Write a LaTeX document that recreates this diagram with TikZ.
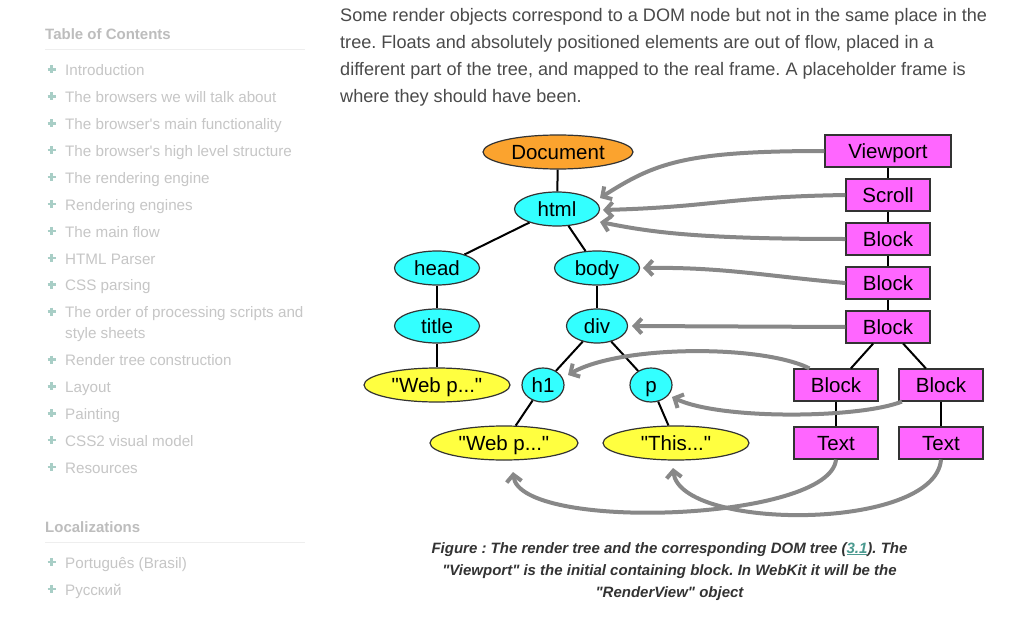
\documentclass[tikz,border=0pt]{standalone}
\usepackage{fontspec}
\setmainfont{Liberation Sans}[Ligatures=TeXOff]
\usetikzlibrary{shapes.geometric,arrows.meta,calc}
\definecolor{docorange}{HTML}{FBA32E}
\definecolor{domcyan}{HTML}{33FFFF}
\definecolor{txtyellow}{HTML}{FFFF40}
\definecolor{rmagenta}{HTML}{FF66FF}
\definecolor{arrowgray}{HTML}{888888}
\definecolor{sidegray}{HTML}{C6C6C6}
\definecolor{sidehead}{HTML}{BDBDBD}
\definecolor{sideplus}{HTML}{A8CEC6}
\definecolor{rulegray}{HTML}{EEEEEE}
\definecolor{paratext}{HTML}{4A4A4A}
\definecolor{captext}{HTML}{333333}
\definecolor{linkteal}{HTML}{4B9A90}
\frenchspacing
\begin{document}
\begin{tikzpicture}[x=1pt,y=-1pt,
  sidetitle/.style={anchor=base west,inner sep=0pt,text=sidehead,font=\fontsize{15}{18}\selectfont\bfseries},
  sideitem/.style={anchor=base west,inner sep=0pt,text=sidegray,font=\fontsize{15.2}{18}\selectfont},
  plusmark/.style={draw=sideplus,line width=2.5pt},
  sepline/.style={draw=rulegray,line width=1pt},
  paraline/.style={anchor=base west,inner sep=0pt,text=paratext,font=\fontsize{18.1}{20}\selectfont},
  capline/.style={anchor=base,inner sep=0pt,text=captext,font=\fontsize{15}{17}\selectfont\bfseries\itshape},
  dombase/.style={ellipse,draw=black!80,line width=1.2pt,inner sep=0pt,minimum height=34pt,text height=17pt,text depth=2pt,font=\fontsize{20.5}{24}\selectfont},
  docnode/.style={dombase,fill=docorange},
  elemnode/.style={dombase,fill=domcyan},
  textnode/.style={dombase,fill=txtyellow},
  rendernode/.style={rectangle,draw=black!80,line width=1.2pt,fill=rmagenta,inner sep=0pt,minimum height=32pt,minimum width=84pt,text height=17pt,text depth=2pt,font=\fontsize{20.5}{24}\selectfont},
  treeedge/.style={draw=black,line width=2pt},
  maparrow/.style={draw=arrowgray,line width=4pt,-{Straight Barb[length=7pt,width=15pt]}}
]
\useasboundingbox (0,0) rectangle (1024,631);
\fill[white] (0,0) rectangle (1024,631);

% ---------- sidebar ----------
\node[sidetitle] (toc) at (45,40) {Table of Contents};
\draw[sepline] (45,49.5) -- (305,49.5);
\foreach \yy/\tt [count=\i] in {
  75.7/{Introduction},
  102.6/{The browsers we will talk about},
  129.5/{The browser's main functionality},
  156.4/{The browser's high level structure},
  183.3/{The rendering engine},
  210.2/{Rendering engines},
  237.1/{The main flow},
  264.0/{HTML Parser},
  290.9/{CSS parsing},
  317.8/{The order of processing scripts and},
  365.7/{Render tree construction},
  392.6/{Layout},
  419.5/{Painting},
  446.4/{CSS2 visual model},
  473.3/{Resources}}
{
  \node[sideitem] (item\i) at (65,\yy) {\tt};
  \draw[plusmark] (47.5,\yy-6.2) -- (55.5,\yy-6.2) (51.5,\yy-10.2) -- (51.5,\yy-2.2);
}
\node[sideitem] (item10b) at (65,338.3) {style sheets};

\node[sidetitle] (loc) at (45,532) {Localizations};
\draw[sepline] (45,542.5) -- (305,542.5);
\foreach \yy/\tt [count=\i] in {568.3/{Português (Brasil)}, 595/{Русский}}
{
  \node[sideitem] (loc\i) at (65,\yy) {\tt};
  \draw[plusmark] (47.5,\yy-6.2) -- (55.5,\yy-6.2) (51.5,\yy-10.2) -- (51.5,\yy-2.2);
}

% ---------- paragraph ----------
\node[paraline] (p1) at (340,22) {Some render objects correspond to a DOM node but not in the same place in the};
\node[paraline] (p2) at (340,49) {tree. Floats and absolutely positioned elements are out of flow, placed in a};
\node[paraline] (p3) at (340,76) {different part of the tree, and mapped to the real frame. A placeholder frame is};
\node[paraline] (p4) at (340,103) {where they should have been.};

% ---------- DOM tree ----------
\node[docnode, minimum width=150pt] (doc) at (558,152) {Document};
\node[elemnode, minimum width=85pt] (html) at (557,209) {html};
\node[elemnode, minimum width=85pt] (head) at (437,268) {head};
\node[elemnode, minimum width=85pt] (body) at (597,268) {body};
\node[elemnode, minimum width=85pt] (title) at (437,326) {title};
\node[elemnode, minimum width=61pt] (div) at (597,326) {div};
\node[elemnode, minimum width=42pt] (h1) at (543,385) {h1};
\node[elemnode, minimum width=42pt] (p) at (651,385) {p};
\node[textnode, minimum width=146pt] (wp1) at (437,385) {"Web p..."};
\node[textnode, minimum width=148pt] (wp2) at (504,443) {"Web p..."};
\node[textnode, minimum width=146pt] (this) at (676,443) {"This..."};

\draw[treeedge] (doc) -- (html);
\draw[treeedge] (html) -- (head);
\draw[treeedge] (html) -- (body);
\draw[treeedge] (head) -- (title);
\draw[treeedge] (title) -- (wp1);
\draw[treeedge] (body) -- (div);
\draw[treeedge] (div) -- (h1);
\draw[treeedge] (div) -- (p);
\draw[treeedge] (h1) -- (wp2);
\draw[treeedge] (p) -- (this);

% ---------- render tree ----------
\node[rendernode, minimum width=126pt] (vp) at (888,151) {Viewport};
\node[rendernode] (scroll) at (888,195) {Scroll};
\node[rendernode] (b1) at (888,239) {Block};
\node[rendernode] (b2) at (888,283) {Block};
\node[rendernode] (b3) at (888,327) {Block};
\node[rendernode] (b4) at (836,385) {Block};
\node[rendernode] (b5) at (941,385) {Block};
\node[rendernode] (t1) at (836,443) {Text};
\node[rendernode] (t2) at (941,443) {Text};

\draw[treeedge] (vp) -- (scroll);
\draw[treeedge] (scroll) -- (b1);
\draw[treeedge] (b1) -- (b2);
\draw[treeedge] (b2) -- (b3);
\draw[treeedge] (b3) -- (b4);
\draw[treeedge] (b3) -- (b5);
\draw[treeedge] (b4) -- (t1);
\draw[treeedge] (b5) -- (t2);

% ---------- mapping arrows ----------
\draw[maparrow] (vp.west) .. controls +(-140,0) and +(55,-35) .. ($(html.center)+(43,-11)$);
\draw[maparrow] (scroll.west) .. controls +(-120,2) and +(110,-3) .. ($(html.center)+(46,1)$);
\draw[maparrow] (b1.west) .. controls +(-150,0) and +(50,10) .. ($(html.center)+(43,13)$);
\draw[maparrow] (b2.west) .. controls +(-80,-7) and +(80,-1) .. ($(body.center)+(46,0)$);
\draw[maparrow] (b3.west) -- ($(div.center)+(35,0)$);
\draw[maparrow] (b4.148) .. controls +(-48,-24) and +(52,-30) .. ($(h1.center)+(25,-10)$);
\draw[maparrow] (b5.203) .. controls +(-43,17) and +(48,23) .. ($(p.center)+(21,12)$);
\draw[maparrow] (t1.south) .. controls +(-6,62) and +(7,60) .. ($(wp2.center)+(9,29)$);
\draw[maparrow] (t2.south) .. controls +(-6,72) and +(7,63) .. ($(this.center)+(-3,25)$);

% ---------- caption ----------
\node[capline] (c1) at (669.5,553) {Figure : The render tree and the corresponding DOM tree (\textcolor{linkteal}{\underline{3.1}}). The};
\node[capline] (c2) at (669.5,575) {"Viewport" is the initial containing block. In WebKit it will be the};
\node[capline] (c3) at (669.5,597) {"RenderView" object};
\end{tikzpicture}
\end{document}
